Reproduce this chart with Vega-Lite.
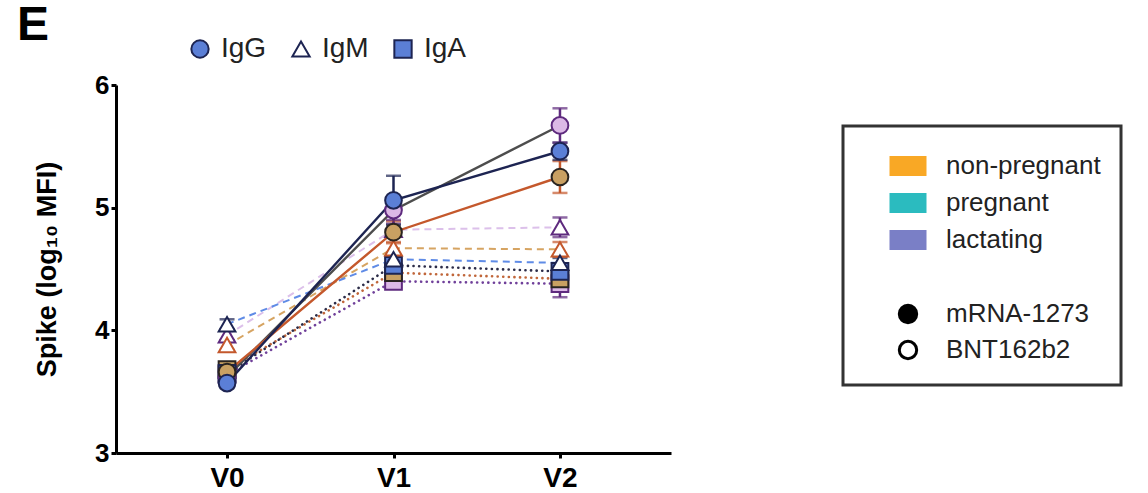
{
  "$schema": "https://vega.github.io/schema/vega-lite/v6.json",
  "width": 555,
  "height": 368,
  "autosize": {"type": "none"},
  "padding": {"left": 116, "top": 85, "right": 477, "bottom": 40},
  "background": "white",
  "title": {"text": "E", "anchor": "start", "frame": "group", "fontSize": 48, "font": "Liberation Sans", "fontWeight": "bold", "color": "#000000", "dx": -99, "offset": 0, "dy": 15},
  "config": {
    "view": {"stroke": null},
    "axis": {"domainColor": "#000000", "domainWidth": 3, "tickColor": "#000000", "tickWidth": 3, "labelFont": "Liberation Sans", "labelFontWeight": "bold", "labelColor": "#000000", "titleFont": "Liberation Sans", "titleColor": "#000000", "grid": false},
    "axisY": {"tickCount": 3, "labelFontSize": 26, "tickSize": 5, "labelPadding": 2, "titleFontSize": 27, "titleFontWeight": "bold", "titlePadding": 33},
    "axisX": {"labelFontSize": 28, "tickSize": 5, "labelPadding": 6, "labelAngle": 0},
    "legend": {"labelFont": "Liberation Sans", "labelColor": "#222222", "strokeWidth": 3}
  },
  "data": {"values": [
    {"antibody": "IgA", "group": "C", "series": "IgA-C", "visit": "V0", "value": 3.64, "lo": 3.60, "hi": 3.68},
    {"antibody": "IgA", "group": "C", "series": "IgA-C", "visit": "V1", "value": 4.40, "lo": 4.36, "hi": 4.44},
    {"antibody": "IgA", "group": "C", "series": "IgA-C", "visit": "V2", "value": 4.38, "lo": 4.27, "hi": 4.49},
    {"antibody": "IgA", "group": "B", "series": "IgA-B", "visit": "V0", "value": 3.68, "lo": 3.64, "hi": 3.72},
    {"antibody": "IgA", "group": "B", "series": "IgA-B", "visit": "V1", "value": 4.47, "lo": 4.43, "hi": 4.51},
    {"antibody": "IgA", "group": "B", "series": "IgA-B", "visit": "V2", "value": 4.42, "lo": 4.37, "hi": 4.47},
    {"antibody": "IgA", "group": "A", "series": "IgA-A", "visit": "V0", "value": 3.65, "lo": 3.61, "hi": 3.69},
    {"antibody": "IgA", "group": "A", "series": "IgA-A", "visit": "V1", "value": 4.53, "lo": 4.49, "hi": 4.57},
    {"antibody": "IgA", "group": "A", "series": "IgA-A", "visit": "V2", "value": 4.48, "lo": 4.44, "hi": 4.52},
    {"antibody": "IgM", "group": "C", "series": "IgM-C", "visit": "V0", "value": 3.96, "lo": 3.92, "hi": 4.00},
    {"antibody": "IgM", "group": "C", "series": "IgM-C", "visit": "V1", "value": 4.82, "lo": 4.77, "hi": 4.87},
    {"antibody": "IgM", "group": "C", "series": "IgM-C", "visit": "V2", "value": 4.84, "lo": 4.76, "hi": 4.92},
    {"antibody": "IgM", "group": "B", "series": "IgM-B", "visit": "V0", "value": 3.88, "lo": 3.84, "hi": 3.92},
    {"antibody": "IgM", "group": "B", "series": "IgM-B", "visit": "V1", "value": 4.67, "lo": 4.62, "hi": 4.72},
    {"antibody": "IgM", "group": "B", "series": "IgM-B", "visit": "V2", "value": 4.66, "lo": 4.60, "hi": 4.72},
    {"antibody": "IgM", "group": "A", "series": "IgM-A", "visit": "V0", "value": 4.05, "lo": 4.01, "hi": 4.09},
    {"antibody": "IgM", "group": "A", "series": "IgM-A", "visit": "V1", "value": 4.58, "lo": 4.54, "hi": 4.62},
    {"antibody": "IgM", "group": "A", "series": "IgM-A", "visit": "V2", "value": 4.55, "lo": 4.51, "hi": 4.59},
    {"antibody": "IgG", "group": "C", "series": "IgG-C", "visit": "V0", "value": 3.62, "lo": 3.58, "hi": 3.66},
    {"antibody": "IgG", "group": "C", "series": "IgG-C", "visit": "V1", "value": 4.98, "lo": 4.90, "hi": 5.06},
    {"antibody": "IgG", "group": "C", "series": "IgG-C", "visit": "V2", "value": 5.67, "lo": 5.53, "hi": 5.81},
    {"antibody": "IgG", "group": "B", "series": "IgG-B", "visit": "V0", "value": 3.66, "lo": 3.62, "hi": 3.70},
    {"antibody": "IgG", "group": "B", "series": "IgG-B", "visit": "V1", "value": 4.80, "lo": 4.71, "hi": 4.89},
    {"antibody": "IgG", "group": "B", "series": "IgG-B", "visit": "V2", "value": 5.25, "lo": 5.12, "hi": 5.38},
    {"antibody": "IgG", "group": "A", "series": "IgG-A", "visit": "V0", "value": 3.57, "lo": 3.53, "hi": 3.61},
    {"antibody": "IgG", "group": "A", "series": "IgG-A", "visit": "V1", "value": 5.06, "lo": 4.86, "hi": 5.26},
    {"antibody": "IgG", "group": "A", "series": "IgG-A", "visit": "V2", "value": 5.46, "lo": 5.39, "hi": 5.53}
  ]},
  "encoding": {
    "x": {"field": "visit", "type": "ordinal", "title": null, "scale": {"type": "point", "padding": 0.667, "domain": ["V0", "V1", "V2"]}},
    "y": {"field": "value", "type": "quantitative", "title": "Spike (log₁₀ MFI)", "scale": {"domain": [3, 6], "nice": false, "zero": false}}
  },
  "layer": [
    {
      "transform": [{"filter": "datum.antibody === 'IgA'"}],
      "mark": {"type": "line", "strokeWidth": 2.6, "strokeDash": [0.1, 5.5], "strokeCap": "round"},
      "encoding": {
        "detail": {"field": "series"},
        "stroke": {"field": "series", "type": "nominal", "legend": null, "scale": {"domain": ["IgG-A","IgG-B","IgG-C","IgM-A","IgM-B","IgM-C","IgA-A","IgA-B","IgA-C"], "range": ["#1D2452","#C4582C","#4D4D4D","#5F8BE6","#D6A462","#DCC0EA","#2C2C48","#C0663A","#70409A"]}}
      }
    },
    {
      "transform": [{"filter": "datum.antibody === 'IgM'"}],
      "mark": {"type": "line", "strokeWidth": 2, "strokeDash": [7, 5]},
      "encoding": {
        "detail": {"field": "series"},
        "stroke": {"field": "series", "type": "nominal", "legend": null, "scale": {"domain": ["IgG-A","IgG-B","IgG-C","IgM-A","IgM-B","IgM-C","IgA-A","IgA-B","IgA-C"], "range": ["#1D2452","#C4582C","#4D4D4D","#5F8BE6","#D6A462","#DCC0EA","#2C2C48","#C0663A","#70409A"]}}
      }
    },
    {
      "transform": [{"filter": "datum.antibody === 'IgG'"}],
      "mark": {"type": "line", "strokeWidth": 2.4},
      "encoding": {
        "detail": {"field": "series"},
        "stroke": {"field": "series", "type": "nominal", "legend": null, "scale": {"domain": ["IgG-A","IgG-B","IgG-C","IgM-A","IgM-B","IgM-C","IgA-A","IgA-B","IgA-C"], "range": ["#1D2452","#C4582C","#4D4D4D","#5F8BE6","#D6A462","#DCC0EA","#2C2C48","#C0663A","#70409A"]}}
      }
    },
    {
      "mark": {"type": "rule", "strokeWidth": 2.5},
      "encoding": {
        "y": {"field": "lo", "type": "quantitative", "title": "Spike (log₁₀ MFI)", "scale": {"domain": [3, 6], "nice": false, "zero": false}},
        "y2": {"field": "hi"},
        "color": {"field": "series", "type": "nominal", "legend": null, "scale": {"domain": ["IgG-A","IgG-B","IgG-C","IgM-A","IgM-B","IgM-C","IgA-A","IgA-B","IgA-C"], "range": ["#1D2452","#C4582C","#5E2A7E","#1D2452","#C4582C","#5E2A7E","#1D2452","#C4582C","#5E2A7E"]}}
      }
    },
    {
      "mark": {"type": "tick", "size": 15, "thickness": 2.5},
      "encoding": {
        "y": {"field": "hi", "type": "quantitative", "title": "Spike (log₁₀ MFI)", "scale": {"domain": [3, 6], "nice": false, "zero": false}},
        "color": {"field": "series", "type": "nominal", "legend": null, "scale": {"domain": ["IgG-A","IgG-B","IgG-C","IgM-A","IgM-B","IgM-C","IgA-A","IgA-B","IgA-C"], "range": ["#1D2452","#C4582C","#5E2A7E","#1D2452","#C4582C","#5E2A7E","#1D2452","#C4582C","#5E2A7E"]}}
      }
    },
    {
      "mark": {"type": "tick", "size": 15, "thickness": 2.5},
      "encoding": {
        "y": {"field": "lo", "type": "quantitative", "title": "Spike (log₁₀ MFI)", "scale": {"domain": [3, 6], "nice": false, "zero": false}},
        "color": {"field": "series", "type": "nominal", "legend": null, "scale": {"domain": ["IgG-A","IgG-B","IgG-C","IgM-A","IgM-B","IgM-C","IgA-A","IgA-B","IgA-C"], "range": ["#1D2452","#C4582C","#5E2A7E","#1D2452","#C4582C","#5E2A7E","#1D2452","#C4582C","#5E2A7E"]}}
      }
    },
    {
      "mark": {"type": "point", "filled": true, "size": 280, "strokeWidth": 2, "opacity": 1},
      "encoding": {
        "shape": {"field": "antibody", "type": "nominal", "legend": null, "scale": {"domain": ["IgG", "IgM", "IgA"], "range": ["circle", "triangle-up", "square"]}},
        "fill": {"field": "series", "type": "nominal", "legend": null, "scale": {"domain": ["IgG-A","IgG-B","IgG-C","IgM-A","IgM-B","IgM-C","IgA-A","IgA-B","IgA-C"], "range": ["#5B7FD6","#C9A062","#DCB9E6","#ffffff","#ffffff","#ffffff","#5B7FD6","#C9A062","#DCB9E6"]}},
        "stroke": {"field": "series", "type": "nominal", "legend": null, "scale": {"domain": ["IgG-A","IgG-B","IgG-C","IgM-A","IgM-B","IgM-C","IgA-A","IgA-B","IgA-C"], "range": ["#1D2452","#2A2420","#5E2A7E","#1D2452","#C4582C","#5E2A7E","#1D2452","#2A2420","#5E2A7E"]}}
      }
    },
    {
      "mark": {"type": "point", "filled": true, "opacity": 0},
      "encoding": {
        "shape": {"field": "antibody", "type": "nominal", "scale": {"domain": ["IgG", "IgM", "IgA"], "range": ["circle", "triangle-up", "square"]},
          "legend": {"orient": "none", "legendX": 70, "legendY": -50, "direction": "horizontal", "title": null, "labelFontSize": 28, "labelOffset": 7, "columnPadding": 20, "symbolSize": 300, "symbolStrokeWidth": 2, "symbolOpacity": 1}},
        "fill": {"field": "antibody", "type": "nominal", "scale": {"domain": ["IgG", "IgM", "IgA"], "range": ["#5B7FD6", "#ffffff", "#5B7FD6"]},
          "legend": {"orient": "none", "legendX": 70, "legendY": -50, "direction": "horizontal", "title": null, "labelFontSize": 28, "labelOffset": 7, "columnPadding": 20, "symbolSize": 300, "symbolStrokeWidth": 2, "symbolOpacity": 1}},
        "stroke": {"field": "antibody", "type": "nominal", "scale": {"domain": ["IgG", "IgM", "IgA"], "range": ["#1D2452", "#1D2452", "#1D2452"]},
          "legend": {"orient": "none", "legendX": 70, "legendY": -50, "direction": "horizontal", "title": null, "labelFontSize": 28, "labelOffset": 7, "columnPadding": 20, "symbolSize": 300, "symbolStrokeWidth": 2, "symbolOpacity": 1}}
      }
    },
    {
      "mark": {"type": "point", "filled": true, "opacity": 0},
      "encoding": {
        "fill": {"field": "legendKey", "type": "nominal",
          "scale": {"domain": ["non-pregnant", "pregnant", "lactating", " ", "mRNA-1273", "BNT162b2"], "range": ["#F9A825", "#2BBBBF", "#7A7FC6", "#ffffff", "#000000", "#ffffff"]},
          "legend": {"orient": "none", "legendX": 727, "legendY": 41, "title": null, "padding": 20, "symbolOffset": 25, "symbolSize": 1369, "symbolStrokeWidth": 3, "symbolOpacity": 1, "labelOffset": 18, "labelFontSize": 26, "rowPadding": 1, "strokeColor": "#333333",
            "labelExpr": "datum.label === 'non-pregnant' ? 'non-pregnant\u00a0\u00a0\u00a0\u00a0\u00a0\u00a0\u00a0\u00a0\u00a0\u00a0\u00a0\u00a0\u00a0\u00a0\u00a0' : datum.label"}},
        "shape": {"field": "legendKey", "type": "nominal",
          "scale": {"domain": ["non-pregnant", "pregnant", "lactating", " ", "mRNA-1273", "BNT162b2"], "range": ["M-1,-0.54H1V0.54H-1Z", "M-1,-0.54H1V0.54H-1Z", "M-1,-0.54H1V0.54H-1Z", "M-1,-0.54H1V0.54H-1Z", "M-0.47,0A0.47,0.47,0,1,1,0.47,0A0.47,0.47,0,1,1,-0.47,0Z", "M-0.47,0A0.47,0.47,0,1,1,0.47,0A0.47,0.47,0,1,1,-0.47,0Z"]},
          "legend": {"orient": "none", "legendX": 727, "legendY": 41, "title": null, "padding": 20, "symbolOffset": 25, "symbolSize": 1369, "symbolStrokeWidth": 3, "symbolOpacity": 1, "labelOffset": 18, "labelFontSize": 26, "rowPadding": 1, "strokeColor": "#333333",
            "labelExpr": "datum.label === 'non-pregnant' ? 'non-pregnant\u00a0\u00a0\u00a0\u00a0\u00a0\u00a0\u00a0\u00a0\u00a0\u00a0\u00a0\u00a0\u00a0\u00a0\u00a0' : datum.label"}},
        "stroke": {"field": "legendKey", "type": "nominal",
          "scale": {"domain": ["non-pregnant", "pregnant", "lactating", " ", "mRNA-1273", "BNT162b2"], "range": ["transparent", "transparent", "transparent", "transparent", "#000000", "#000000"]},
          "legend": {"orient": "none", "legendX": 727, "legendY": 41, "title": null, "padding": 20, "symbolOffset": 25, "symbolSize": 1369, "symbolStrokeWidth": 3, "symbolOpacity": 1, "labelOffset": 18, "labelFontSize": 26, "rowPadding": 1, "strokeColor": "#333333",
            "labelExpr": "datum.label === 'non-pregnant' ? 'non-pregnant\u00a0\u00a0\u00a0\u00a0\u00a0\u00a0\u00a0\u00a0\u00a0\u00a0\u00a0\u00a0\u00a0\u00a0\u00a0' : datum.label"}}
      }
    }
  ],
  "resolve": {"scale": {"color": "independent", "fill": "independent", "stroke": "independent", "shape": "independent"}}
}
